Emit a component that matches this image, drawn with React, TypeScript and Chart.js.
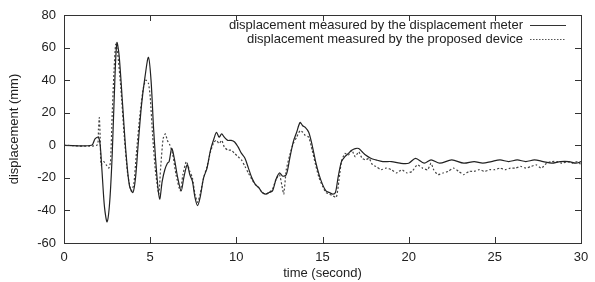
import React, { useEffect, useRef } from "react";
import { Chart, registerables } from "chart.js";

Chart.register(...registerables);

const meterLabel = "displacement measured by the displacement meter";
const deviceLabel = "displacement measured by the proposed device";

const xTicks = [0, 5, 10, 15, 20, 25, 30];
const yTicks = [-60, -40, -20, 0, 20, 40, 60, 80];

const meterT = [0,1.6,1.8,2.0,2.1,2.2,2.35,2.5,2.65,2.8,2.95,3.07,3.2,3.4,3.6,3.8,4.0,4.15,4.3,4.5,4.7,4.9,5.05,5.2,5.4,5.55,5.7,5.85,6.0,6.1,6.25,6.4,6.6,6.8,6.95,7.15,7.3,7.45,7.6,7.75,7.9,8.1,8.3,8.5,8.7,8.85,9.0,9.15,9.3,9.5,9.7,9.9,10.1,10.3,10.5,10.7,10.9,11.1,11.3,11.5,11.7,11.9,12.1,12.3,12.5,12.7,12.9,13.1,13.3,13.5,13.7,13.85,14.0,14.2,14.4,14.6,14.8,15.0,15.2,15.4,15.6,15.75,15.9,16.1,16.3,16.5,16.7,16.9,17.1,17.3,17.5,17.8,18.1,18.5,19.0,19.5,20.0,20.4,20.9,21.3,21.8,22.5,23.2,23.8,24.3,24.8,25.3,25.8,26.3,26.8,27.3,27.8,28.3,28.8,29.3,29.7,30];
const meterY = [0,0,4,5,0,-15,-38,-47,-35,-5,40,63,55,25,-5,-25,-29,-20,0,25,42,54,40,10,-20,-33,-22,-15,-11,-10,-2,-8,-20,-28,-20,-12,-18,-22,-32,-37,-32,-20,-14,-3,4,8,5,7,5,3,3,2,-1,-5,-8,-14,-20,-24,-26,-29,-30,-29,-28,-21,-17,-19,-18,-8,2,8,14,12,11,8,0,-10,-18,-24,-28,-29,-30,-29,-20,-10,-7,-5,-3,-2,-2,-4,-6,-8,-9,-10,-10,-11,-11,-8,-11,-9,-11,-9,-11,-10,-11,-10,-9,-10,-9,-10,-9,-10,-11,-10,-10,-11,-10,-11];

const deviceT = [0,1.9,2.0,2.05,2.1,2.15,2.3,2.45,2.6,2.7,2.8,2.9,3.0,3.1,3.3,3.5,3.7,3.9,4.05,4.2,4.4,4.6,4.75,4.9,5.0,5.15,5.3,5.5,5.6,5.75,5.88,6.0,6.15,6.3,6.5,6.75,6.9,7.1,7.3,7.45,7.6,7.75,7.9,8.1,8.3,8.5,8.7,8.85,9.0,9.15,9.3,9.5,9.7,9.9,10.1,10.3,10.5,10.7,10.9,11.1,11.3,11.5,11.7,11.9,12.1,12.3,12.5,12.65,12.75,12.9,13.1,13.3,13.5,13.7,13.85,14.0,14.2,14.4,14.6,14.8,15.0,15.2,15.4,15.6,15.8,15.95,16.1,16.3,16.5,16.7,16.9,17.1,17.3,17.5,17.7,17.9,18.1,18.4,18.7,19.0,19.3,19.6,19.9,20.2,20.5,20.8,21.1,21.3,21.45,21.7,22.0,22.3,22.6,22.9,23.2,23.5,23.8,24.1,24.4,24.7,25.0,25.3,25.6,25.9,26.2,26.5,26.8,27.1,27.4,27.7,28.0,28.3,28.6,28.9,29.2,29.5,29.8,30];
const deviceY = [0,0,10,17,5,-12,-10,-12,-14,-10,20,45,62,58,35,5,-18,-28,-24,-5,18,35,40,38,30,5,-15,-30,-15,4,7,3,0,-5,-18,-28,-18,-10,-16,-20,-30,-35,-30,-20,-13,-4,2,3,1,3,-1,-3,-3,-5,-7,-9,-13,-17,-21,-24,-26,-29,-30,-29,-27,-21,-18,-25,-30,-15,-6,1,5,9,8,6,5,-3,-12,-20,-25,-29,-30,-31,-32,-22,-10,-5,-6,-3,-7,-4,-8,-9,-8,-12,-13,-15,-14,-15,-17,-15,-17,-16,-12,-14,-15,-11,-15,-18,-17,-16,-14,-16,-18,-16,-16,-15,-16,-15,-15,-14,-15,-14,-14,-13,-14,-13,-12,-14,-11,-10,-10,-11,-10,-11,-10,-12];

const FONT = "'Liberation Sans', Arial, sans-serif";
const TEXT = "#222";

const framePlugin = {
  id: "frame",
  afterDraw(chart: any) {
    const { ctx, chartArea } = chart;
    const { left, right, top, bottom } = chartArea;
    const xs = chart.scales.x;
    const ys = chart.scales.y;
    ctx.save();
    ctx.strokeStyle = "#333";
    ctx.lineWidth = 1;
    ctx.strokeRect(left + 0.5, top + 0.5, right - left, bottom - top);
    const tl = 6;
    ctx.beginPath();
    xTicks.forEach((v) => {
      const px = Math.round(xs.getPixelForValue(v)) + 0.5;
      ctx.moveTo(px, bottom);
      ctx.lineTo(px, bottom - tl);
      ctx.moveTo(px, top);
      ctx.lineTo(px, top + tl);
    });
    yTicks.forEach((v) => {
      const py = Math.round(ys.getPixelForValue(v)) + 0.5;
      ctx.moveTo(left, py);
      ctx.lineTo(left + tl, py);
      ctx.moveTo(right, py);
      ctx.lineTo(right - tl, py);
    });
    ctx.stroke();

    // legend (gnuplot style: text right-aligned, sample to the right)
    ctx.font = `13px ${FONT}`;
    ctx.fillStyle = TEXT;
    ctx.textAlign = "right";
    ctx.textBaseline = "middle";
    const textRight = right - 58;
    const s0 = right - 51;
    const s1 = right - 15;
    const rows = [
      { label: meterLabel, dash: [] as number[], color: "#333", y: top + 10 },
      { label: deviceLabel, dash: [1.5, 1.5], color: "#555", y: top + 24 },
    ];
    rows.forEach((r) => {
      ctx.fillText(r.label, textRight, r.y);
      ctx.beginPath();
      ctx.setLineDash(r.dash);
      ctx.strokeStyle = r.color;
      ctx.lineWidth = 1;
      ctx.moveTo(s0, Math.round(r.y) + 0.5);
      ctx.lineTo(s1, Math.round(r.y) + 0.5);
      ctx.stroke();
    });
    ctx.restore();
  },
};

export default function App() {
  const ref = useRef<HTMLCanvasElement>(null);
  useEffect(() => {
    document.body.style.margin = "0";
    const meter = meterT.map((t, i) => ({ x: t, y: meterY[i] }));
    const device = deviceT.map((t, i) => ({ x: t, y: deviceY[i] }));
    const chart = new Chart(ref.current!, {
      type: "line",
      data: {
        datasets: [
          {
            label: meterLabel,
            data: meter,
            borderColor: "#222",
            borderWidth: 1.2,
            pointRadius: 0,
            tension: 0.3,
            fill: false,
          },
          {
            label: deviceLabel,
            data: device,
            borderColor: "#444",
            borderWidth: 1.2,
            borderDash: [2, 2],
            pointRadius: 0,
            tension: 0.2,
            fill: false,
          },
        ],
      },
      options: {
        animation: false,
        responsive: false,
        maintainAspectRatio: false,
        layout: { padding: { top: 15, right: 14, left: 0, bottom: 0 } },
        plugins: { legend: { display: false }, tooltip: { enabled: false } },
        scales: {
          x: {
            type: "linear",
            min: 0,
            max: 30,
            afterBuildTicks: (s: any) => {
              s.ticks = xTicks.map((v) => ({ value: v }));
            },
            afterFit: (s: any) => {
              s.height = 39;
              s.paddingRight = 0;
              s.paddingLeft = 0;
            },
            grid: { display: false, drawTicks: false },
            border: { display: false },
            ticks: { color: TEXT, font: { family: FONT, size: 13 }, padding: 7, maxRotation: 0 },
            title: {
              display: true,
              text: "time (second)",
              color: TEXT,
              font: { family: FONT, size: 13 },
              padding: { top: 0, bottom: 1 },
            },
          },
          y: {
            type: "linear",
            min: -60,
            max: 80,
            afterBuildTicks: (s: any) => {
              s.ticks = yTicks.map((v) => ({ value: v }));
            },
            afterFit: (s: any) => {
              s.width = 64;
              s.paddingTop = 0;
              s.paddingBottom = 0;
            },
            grid: { display: false, drawTicks: false },
            border: { display: false },
            ticks: { color: TEXT, font: { family: FONT, size: 13 }, padding: 8 },
            title: {
              display: true,
              text: "displacement (mm)",
              color: TEXT,
              font: { family: FONT, size: 13 },
              padding: { top: 7, bottom: 0 },
            },
          },
        },
      },
      plugins: [framePlugin],
    });
    return () => chart.destroy();
  }, []);
  return (
    <div style={{ position: "absolute", left: 0, top: 0, width: 595, height: 282 }}>
      <canvas ref={ref} width={595} height={282} style={{ display: "block", width: 595, height: 282 }} />
    </div>
  );
}
